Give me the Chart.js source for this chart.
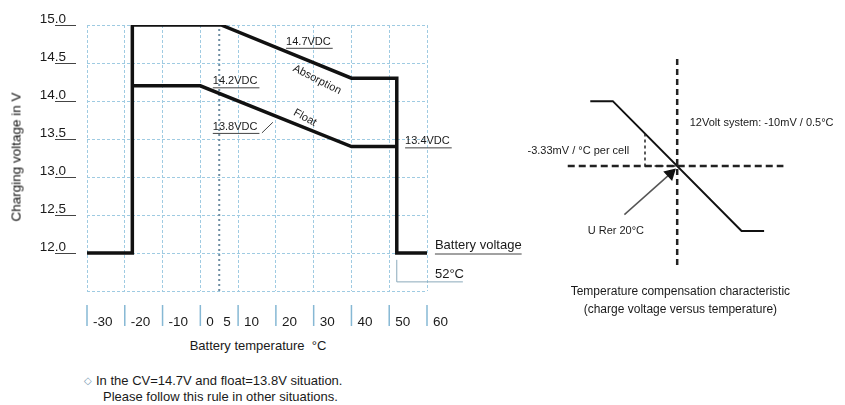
<!DOCTYPE html>
<html>
<head>
<meta charset="utf-8">
<script src="https://cdn.jsdelivr.net/npm/chart.js@4.4.0/dist/chart.umd.min.js"></script>
<style>
  html, body { margin: 0; padding: 0; background: #fff; }
  body { width: 845px; height: 405px; position: relative; overflow: hidden;
         font-family: "Liberation Sans", Arial, sans-serif; color: #1a1a1a; }
  #leftChart { position: absolute; left: 0; top: 0; }
  #rightChart { position: absolute; left: 520px; top: 40px; }
  .ytitle { position: absolute; left: 16px; top: 157px; white-space: nowrap; font-size: 13.5px; color: #111;
            transform: translate(-50%, -50%) rotate(-90deg); }
  .xtitle { position: absolute; left: 258px; top: 345px; transform: translate(-50%, -50%);
            white-space: nowrap; font-size: 13px; }
  .note { position: absolute; left: 84px; top: 373px; font-size: 13px; line-height: 16px; }
  .note .dia { color: #7a9db3; font-size: 10px; margin-right: 4px; vertical-align: 1px; }
  .note .l2 { padding-left: 19px; }
</style>
</head>
<body>
<canvas id="leftChart" width="540" height="335"></canvas>
<canvas id="rightChart" width="325" height="290"></canvas>
<div class="ytitle">Charging voltage in V</div>
<div class="xtitle">Battery temperature &nbsp;°C</div>
<div class="note"><span class="dia">◇</span>In the CV=14.7V and float=13.8V situation.<br><span class="l2">Please follow this rule in other situations.</span></div>
<script>
// ---- left chart data ----
const absorptionTemp = [-30, -18, -18, 5.5, 40, 52, 52, 60];
const absorptionVolt = [12.0, 12.0, 15.0, 15.0, 14.3, 14.3, 12.0, 12.0];
const floatTemp = [-18, 0, 40, 52];
const floatVolt = [14.2, 14.2, 13.4, 13.4];
const refTemp = 5;
const yTicks = [12.0, 12.5, 13.0, 13.5, 14.0, 14.5, 15.0];
const xTicks = [-30, -20, -10, 0, 5, 10, 20, 30, 40, 50, 60];

// ---- right chart (compensation sketch) data ----
const compTemp = [-7, 0, 40, 47];
const compVolt = [0.4, 0.4, -0.4, -0.4];
const refPoint = 20;      // U ref at 20 C
const cellStepTemp = 10;  // dashed helper triangle
const cellStepVolt = 0.2;

const FONT = '"Liberation Sans", Arial, sans-serif';
const pts = (xs, ys) => xs.map((x, i) => ({ x: x, y: ys[i] }));

const leftNotes = [
  { text: "14.7VDC", x: 22.7, y: 14.70 },
  { text: "14.2VDC", x: 3.3, y: 14.18 },
  { text: "13.8VDC", x: 3.3, y: 13.58 },
  { text: "13.4VDC", x: 54.2, y: 13.39 }
];

const leftText = {
  id: "leftText",
  afterDraw(chart) {
    const { ctx, scales: { x, y } } = chart;
    ctx.save();
    ctx.fillStyle = "#1a1a1a";
    ctx.strokeStyle = "#444";

    // y tick labels sitting on short underlines
    ctx.font = "13.5px " + FONT;
    ctx.textAlign = "right";
    ctx.textBaseline = "alphabetic";
    ctx.lineWidth = 1;
    yTicks.forEach(v => {
      const py = y.getPixelForValue(v);
      ctx.fillText(v.toFixed(1), 66, py - 2);
      ctx.beginPath(); ctx.moveTo(55, py + 0.5); ctx.lineTo(76, py + 0.5); ctx.stroke();
    });

    // x tick labels with small blue bars
    ctx.textAlign = "left";
    ctx.textBaseline = "middle";
    ctx.font = "13.5px " + FONT;
    xTicks.forEach(v => {
      const px = x.getPixelForValue(v);
      if (v !== refTemp) {
        ctx.strokeStyle = "#86b8d4"; ctx.lineWidth = 1.5;
        ctx.beginPath(); ctx.moveTo(px, 305); ctx.lineTo(px, 326); ctx.stroke();
        ctx.fillText(String(v), px + 6, 322);
      } else {
        ctx.fillText(String(v), px + 4, 322);
      }
    });

    // voltage notes
    ctx.font = "11px " + FONT;
    ctx.textBaseline = "alphabetic";
    ctx.strokeStyle = "#444"; ctx.lineWidth = 1;
    leftNotes.forEach(n => {
      const px = x.getPixelForValue(n.x), py = y.getPixelForValue(n.y);
      const w = ctx.measureText(n.text).width;
      ctx.fillText(n.text, px, py - 3);
      ctx.beginPath(); ctx.moveTo(px, py + 0.5); ctx.lineTo(px + w + 2, py + 0.5); ctx.stroke();
    });
    // leader for 13.8VDC
    ctx.beginPath();
    ctx.moveTo(x.getPixelForValue(16.3), y.getPixelForValue(13.58));
    ctx.lineTo(x.getPixelForValue(19.2), y.getPixelForValue(13.72));
    ctx.stroke();

    // rotated phase names
    [["Absorption", 30.9, 14.28, 27], ["Float", 27.7, 13.78, 29]].forEach(([t, tx, ty, a]) => {
      ctx.save();
      ctx.translate(x.getPixelForValue(tx), y.getPixelForValue(ty));
      ctx.rotate(a * Math.PI / 180);
      ctx.textAlign = "center"; ctx.textBaseline = "middle";
      ctx.fillText(t, 0, 0);
      ctx.restore();
    });

    // battery voltage + 52C bracket
    ctx.font = "13px " + FONT;
    const bx = x.getPixelForValue(62.1), by = y.getPixelForValue(12.0);
    ctx.fillText("Battery voltage", bx, by - 4);
    ctx.beginPath(); ctx.moveTo(bx, by + 1); ctx.lineTo(bx + ctx.measureText("Battery voltage").width, by + 1); ctx.stroke();
    ctx.strokeStyle = "#8aa9bb";
    ctx.beginPath();
    ctx.moveTo(x.getPixelForValue(52), y.getPixelForValue(11.91));
    ctx.lineTo(x.getPixelForValue(52), y.getPixelForValue(11.62));
    ctx.lineTo(x.getPixelForValue(69.5), y.getPixelForValue(11.62));
    ctx.stroke();
    ctx.textBaseline = "middle";
    ctx.fillText("52°C", bx, y.getPixelForValue(11.72));
    ctx.restore();
  }
};

new Chart(document.getElementById("leftChart"), {
  type: "line",
  data: {
    datasets: [
      { data: pts(absorptionTemp, absorptionVolt), borderColor: "#111", borderWidth: 3.5 },
      { data: pts(floatTemp, floatVolt), borderColor: "#111", borderWidth: 3.5 },
      { data: pts([refTemp, refTemp], [11.5, 15.0]), borderColor: "#6f8ea3", borderWidth: 2, borderDash: [2, 3] }
    ]
  },
  options: {
    responsive: false,
    animation: false,
    layout: { padding: { left: 87, right: 113, top: 25, bottom: 44 } },
    elements: {
      point: { radius: 0 },
      line: { tension: 0, borderJoinStyle: "miter", borderCapStyle: "butt", fill: false }
    },
    plugins: { legend: { display: false }, tooltip: { enabled: false } },
    scales: {
      x: {
        type: "linear", min: -30, max: 60,
        ticks: { display: false, stepSize: 10 },
        grid: { color: "#9fcbe2", lineWidth: 1, drawTicks: false },
        border: { display: false, dash: [3, 2] }
      },
      y: {
        type: "linear", min: 11.5, max: 15.0,
        ticks: { display: false, stepSize: 0.5 },
        grid: { color: "#9fcbe2", lineWidth: 1, drawTicks: false },
        border: { display: false, dash: [3, 2] }
      }
    }
  },
  plugins: [leftText]
});

// ---- right sketch ----
const rightText = {
  id: "rightText",
  afterDraw(chart) {
    const { ctx, scales: { x, y } } = chart;
    ctx.save();
    ctx.fillStyle = "#1a1a1a";
    ctx.textBaseline = "middle";
    ctx.font = "11px " + FONT;
    ctx.textAlign = "left";
    ctx.fillText("12Volt system: -10mV / 0.5°C", x.getPixelForValue(23.9), y.getPixelForValue(0.263));
    ctx.fillText("-3.33mV / °C per cell", x.getPixelForValue(-26.5), y.getPixelForValue(0.094));
    ctx.fillText("U Rer 20°C", x.getPixelForValue(-7.8), y.getPixelForValue(-0.40));
    ctx.font = "12px " + FONT;
    ctx.textAlign = "center";
    ctx.fillText("Temperature compensation characteristic", x.getPixelForValue(21), y.getPixelForValue(-0.778));
    ctx.fillText("(charge voltage versus temperature)", x.getPixelForValue(21), y.getPixelForValue(-0.883));
    ctx.restore();
  }
};

new Chart(document.getElementById("rightChart"), {
  type: "line",
  data: {
    datasets: [
      { data: pts([-14, 53], [0, 0]), borderColor: "#222", borderWidth: 2.5, borderDash: [7, 4] },
      { data: pts([refPoint, refPoint], [0.66, -0.63]), borderColor: "#222", borderWidth: 2.5, borderDash: [6, 4] },
      { data: pts([cellStepTemp, cellStepTemp, refPoint], [cellStepVolt, 0, 0]), borderColor: "#222", borderWidth: 1.5, borderDash: [3, 3] },
      { data: pts(compTemp, compVolt), borderColor: "#111", borderWidth: 2 },
      { data: pts([3.6, 17.9], [-0.30, -0.047]), borderColor: "#555", borderWidth: 1.5,
        pointRadius: [0, 6], pointStyle: "triangle", pointRotation: 47,
        pointBackgroundColor: "#111", pointBorderColor: "#111" }
    ]
  },
  options: {
    responsive: false,
    animation: false,
    layout: { padding: 0 },
    elements: {
      point: { radius: 0 },
      line: { tension: 0, borderJoinStyle: "miter", borderCapStyle: "butt", fill: false }
    },
    plugins: { legend: { display: false }, tooltip: { enabled: false } },
    scales: {
      x: { type: "linear", display: false, min: -26.5, max: 69.8 },
      y: { type: "linear", display: false, min: -0.965, max: 0.731 }
    }
  },
  plugins: [rightText]
});
</script>
</body>
</html>
